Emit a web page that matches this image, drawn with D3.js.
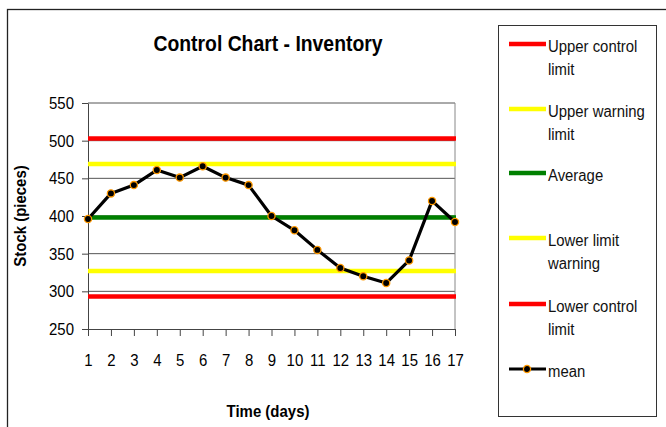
<!DOCTYPE html>
<html>
<head>
<meta charset="utf-8">
<script src="https://cdn.jsdelivr.net/npm/d3@7"></script>
<style>
  body { margin: 0; background: #fff; }
  svg { display: block; font-family: "Liberation Sans", Arial, sans-serif; }
</style>
</head>
<body>
<div id="chart"></div>
<script>
const days = d3.range(1, 18);
const meanValues = [396, 430, 441, 461, 451, 466, 451, 441, 400, 381, 355, 331, 320, 311, 341, 420, 392];
const limitNames = ["Upper control limit", "Upper warning limit", "Average", "Lower limit warning", "Lower control limit"];
const limitValues = [503, 469, 398, 327, 293];
const limitColors = ["#ff0000", "#ffff00", "#008000", "#ffff00", "#ff0000"];
const legendLabels = [["Upper control", "limit"], ["Upper warning", "limit"], ["Average"], ["Lower limit", "warning"], ["Lower control", "limit"], ["mean"]];
const yTicks = [250, 300, 350, 400, 450, 500, 550];

const w = 666, h = 427;
const plotLeft = 88, plotRight = 455, plotTop = 103, plotBottom = 329;
const squeeze = 0.88;

const svg = d3.select("#chart").append("svg").attr("width", w).attr("height", h);

// narrow the text a bit, the original looks horizontally squashed
function condense(sel, f) {
    sel.each(function() {
        const len = this.getComputedTextLength();
        d3.select(this).attr("textLength", len * f).attr("lengthAdjust", "spacingAndGlyphs");
    });
}

svg.append("rect")
    .attr("x", 7.5).attr("y", 9.5)
    .attr("width", 700).attr("height", 500)
    .attr("fill", "none").attr("stroke", "#222").attr("stroke-width", 1.3);

const x = d3.scalePoint().domain(days).range([plotLeft, plotRight]);
const y = d3.scaleLinear().domain([250, 550]).range([plotBottom, plotTop]);

// gridlines
svg.append("g").selectAll("line")
    .data(yTicks.slice(1))
    .join("line")
    .attr("x1", plotLeft).attr("x2", plotRight)
    .attr("y1", d => y(d)).attr("y2", d => y(d))
    .attr("stroke", "#555").attr("stroke-width", 1);

svg.append("line")
    .attr("x1", plotRight).attr("x2", plotRight)
    .attr("y1", plotTop).attr("y2", plotBottom)
    .attr("stroke", "#888");

const yAxis = svg.append("g")
    .attr("transform", `translate(${plotLeft},0)`)
    .call(d3.axisLeft(y).tickValues(yTicks).tickSize(6).tickSizeOuter(0).tickPadding(8));
yAxis.select(".domain").attr("stroke", "#444");
yAxis.selectAll(".tick line").attr("stroke", "#444");
yAxis.selectAll("text").attr("font-size", 17).attr("fill", "#000").call(condense, squeeze);

const xAxis = svg.append("g")
    .attr("transform", `translate(0,${plotBottom})`)
    .call(d3.axisBottom(x).tickSize(7).tickSizeOuter(0).tickPadding(18));
xAxis.select(".domain").attr("stroke", "#444");
xAxis.selectAll(".tick line").attr("stroke", "#444");
xAxis.selectAll("text").attr("font-size", 17).attr("fill", "#000").call(condense, squeeze);

// control limit lines
svg.append("g").selectAll("line")
    .data(limitValues)
    .join("line")
    .attr("x1", plotLeft).attr("x2", plotRight + 1)
    .attr("y1", d => y(d)).attr("y2", d => y(d))
    .attr("stroke", (d, i) => limitColors[i])
    .attr("stroke-width", 4.5);

// mean series
const line = d3.line().x((d, i) => x(days[i])).y(d => y(d));
svg.append("path")
    .datum(meanValues)
    .attr("d", line)
    .attr("fill", "none")
    .attr("stroke", "#000")
    .attr("stroke-width", 3.2)
    .attr("stroke-linejoin", "round");

svg.append("g").selectAll("circle")
    .data(meanValues)
    .join("circle")
    .attr("cx", (d, i) => x(days[i]))
    .attr("cy", d => y(d))
    .attr("r", 3.6)
    .attr("fill", "#000")
    .attr("stroke", "#ff9900")
    .attr("stroke-width", 1.3);

// titles
svg.append("text")
    .attr("x", 268).attr("y", 51)
    .attr("text-anchor", "middle")
    .attr("font-size", 22).attr("font-weight", "bold").attr("fill", "#000")
    .text("Control Chart - Inventory")
    .call(condense, squeeze);

svg.append("text")
    .attr("x", 268).attr("y", 417)
    .attr("text-anchor", "middle")
    .attr("font-size", 17).attr("font-weight", "bold").attr("fill", "#000")
    .text("Time (days)")
    .call(condense, squeeze);

svg.append("text")
    .attr("transform", "translate(26,216) rotate(-90)")
    .attr("text-anchor", "middle")
    .attr("font-size", 17).attr("font-weight", "bold").attr("fill", "#000")
    .text("Stock (pieces)")
    .call(condense, squeeze);

// legend
svg.append("rect")
    .attr("x", 498.5).attr("y", 25.5)
    .attr("width", 158).attr("height", 391)
    .attr("fill", "#fff").attr("stroke", "#333").attr("stroke-width", 1);

const legendY = [44, 109, 173, 238, 304, 369];
const legendColors = limitColors.concat(["#000"]);
const lg = svg.append("g").selectAll("g")
    .data(legendLabels)
    .join("g")
    .attr("transform", (d, i) => `translate(0,${legendY[i]})`);

lg.append("line")
    .attr("x1", 509).attr("x2", 546)
    .attr("stroke", (d, i) => legendColors[i])
    .attr("stroke-width", (d, i) => i === 5 ? 3.2 : 4.5);

lg.filter((d, i) => i === 5).append("circle")
    .attr("cx", 527).attr("r", 3.6)
    .attr("fill", "#000").attr("stroke", "#ff9900").attr("stroke-width", 1.3);

lg.each(function(d) {
    d3.select(this).selectAll("text")
        .data(d)
        .join("text")
        .attr("x", 548)
        .attr("y", (t, j) => 8 + j * 23)
        .attr("font-size", 16).attr("fill", "#111")
        .text(t => t)
        .call(condense, 0.93);
});
</script>
</body>
</html>
